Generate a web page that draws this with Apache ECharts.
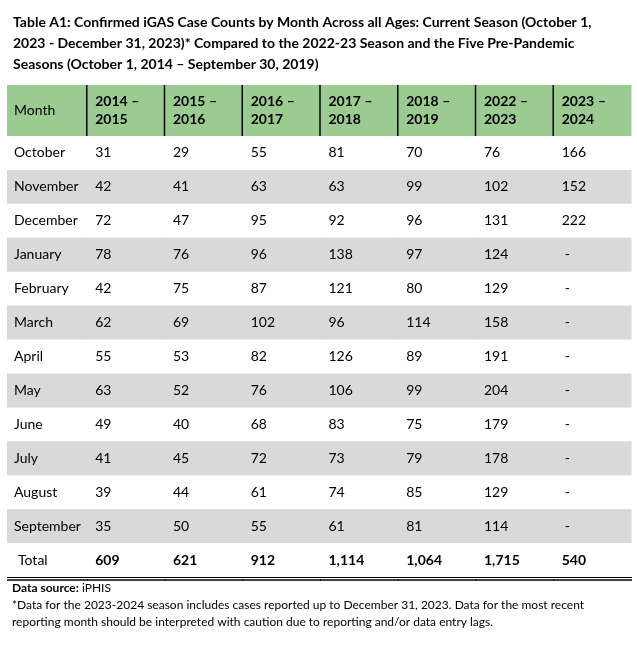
<!DOCTYPE html>
<html><head><meta charset="utf-8">
<script src="https://cdn.jsdelivr.net/npm/echarts@6/dist/echarts.min.js"></script>
<style>html,body{margin:0;padding:0;background:#fff}#c{width:637px;height:645px}</style>
</head><body><div id="c"></div>
<script>
const titleText = 'Table A1: Confirmed iGAS Case Counts by Month Across all Ages: Current Season (October 1,\n2023 \u2011 December 31, 2023)* Compared to the 2022-23 Season and the Five Pre-Pandemic\nSeasons (October 1, 2014 \u2013 September 30, 2019)';
const columns = ['Month', '2014 \u2013\n2015', '2015 \u2013\n2016', '2016 \u2013\n2017', '2017 \u2013\n2018', '2018 \u2013\n2019', '2022 \u2013\n2023', '2023 \u2013\n2024'];
const months = ['October','November','December','January','February','March','April','May','June','July','August','September','Total'];
const s1415 = [31,42,72,78,42,62,55,63,49,41,39,35];
const s1516 = [29,41,47,76,75,69,53,52,40,45,44,50];
const s1617 = [55,63,95,96,87,102,82,76,68,72,61,55];
const s1718 = [81,63,92,138,121,96,126,106,83,73,74,61];
const s1819 = [70,99,96,97,80,114,89,99,75,79,85,81];
const s2223 = [76,102,131,124,129,158,191,204,179,178,129,114];
const s2324 = [166,152,222,'-','-','-','-','-','-','-','-','-'];
const totals = ['609','621','912','1,114','1,064','1,715','540'];

const FONT = 'Lato';
const seriesCols = [s1415, s1516, s1617, s1718, s1819, s2223, s2324];

const cells = [];
months.forEach((m, r) => {
  cells.push({col: 0, row: r, text: m, bold: false});
  seriesCols.forEach((arr, ci) => {
    const t = r < 12 ? String(arr[r]) : totals[ci];
    cells.push({col: ci + 1, row: r, text: t, bold: r === 12});
  });
});
const headerCells = columns.map((c, i) => ({col: i, text: c}));

const chart = echarts.init(document.getElementById('c'), null, {renderer: 'canvas'});
chart.setOption({
  animation: false,
  textStyle: {fontFamily: FONT},
  title: [{
    text: titleText, left: 8, top: 7,
    textStyle: {fontFamily: FONT, fontWeight: 'bold', fontSize: 14, lineHeight: 21, color: '#000'}
  }, {
    text: '{b|Data source:} iPHIS\n*Data for the 2023-2024 season includes cases reported up to December 31, 2023. Data for the most recent\nreporting month should be interpreted with caution due to reporting and/or data entry lags.',
    left: 7, top: 575,
    textStyle: {fontFamily: FONT, fontSize: 12, fontWeight: 'normal', lineHeight: 17, color: '#000',
      rich: {b: {fontFamily: FONT, fontSize: 12, fontWeight: 'bold', lineHeight: 17, color: '#000'}}}
  }],
  grid: [
    {left: 9, right: 6, top: 85, height: 51},
    {left: 9, right: 6, top: 136, height: 441}
  ],
  xAxis: [
    {type: 'category', gridIndex: 0, data: columns, show: false},
    {type: 'category', gridIndex: 1, data: columns, show: false}
  ],
  yAxis: [
    {type: 'category', gridIndex: 0, data: ['header'], show: false},
    {type: 'category', gridIndex: 1, data: months, inverse: true, show: false}
  ],
  series: [{
    type: 'custom', xAxisIndex: 0, yAxisIndex: 0,
    data: headerCells.map(h => [h.col, 0]),
    renderItem: (params, api) => {
      const h = headerCells[params.dataIndex];
      const c = api.coord([api.value(0), api.value(1)]);
      const sz = api.size([1, 1]);
      const x0 = c[0] - sz[0] / 2, y0 = c[1] - sz[1] / 2;
      const ext = h.col === 0 ? 2 : 0;
      const children = [
        {type: 'rect', shape: {x: x0 - ext, y: y0, width: sz[0] + ext + 0.5, height: sz[1]}, style: {fill: '#9bcb90'}},
        {type: 'text', style: {x: x0 + (h.col === 0 ? 5 : 8.5), y: c[1], text: h.text,
          fontFamily: FONT, fontSize: 14, lineHeight: 18, fontWeight: h.col === 0 ? 'normal' : 'bold',
          fill: '#000', verticalAlign: 'middle', align: 'left'}}
      ];
      if (h.col > 0) {
        children.push({type: 'line', shape: {x1: x0, y1: y0, x2: x0, y2: y0 + sz[1]}, style: {stroke: '#000', lineWidth: 1.5}});
      }
      return {type: 'group', children};
    }
  }, {
    type: 'custom', xAxisIndex: 1, yAxisIndex: 1,
    data: cells.map(d => [d.col, d.row]),
    renderItem: (params, api) => {
      const d = cells[params.dataIndex];
      const c = api.coord([api.value(0), api.value(1)]);
      const sz = api.size([1, 1]);
      const x0 = c[0] - sz[0] / 2, y0 = c[1] - sz[1] / 2;
      const ext = d.col === 0 ? 2 : 0;
      const children = [];
      if (d.row % 2 === 1 && d.row < 12) {
        children.push({type: 'rect', shape: {x: x0 - ext, y: y0, width: sz[0] + ext + 0.5, height: sz[1]}, style: {fill: '#d9d9d9'}});
      }
      let pad = d.col === 0 ? (d.row === 12 ? 9 : 5) : 8.5;
      if (d.text === '-') pad += 3;
      children.push({type: 'text', style: {x: x0 + pad, y: c[1], text: d.text,
        fontFamily: FONT, fontSize: 14, fontWeight: d.bold ? 'bold' : 'normal',
        fill: '#000', verticalAlign: 'middle', align: 'left'}});
      if (d.row === 12) {
        const yb = y0 + sz[1];
        children.push({type: 'line', shape: {x1: x0 - ext, y1: yb + 0.5, x2: x0 + sz[0] + 1, y2: yb + 0.5}, style: {stroke: '#000', lineWidth: 1}});
        children.push({type: 'line', shape: {x1: x0 - ext, y1: yb + 3, x2: x0 + sz[0] + 1, y2: yb + 3}, style: {stroke: '#000', lineWidth: 1.5}});
      }
      return {type: 'group', children};
    }
  }]
});
</script></body></html>
